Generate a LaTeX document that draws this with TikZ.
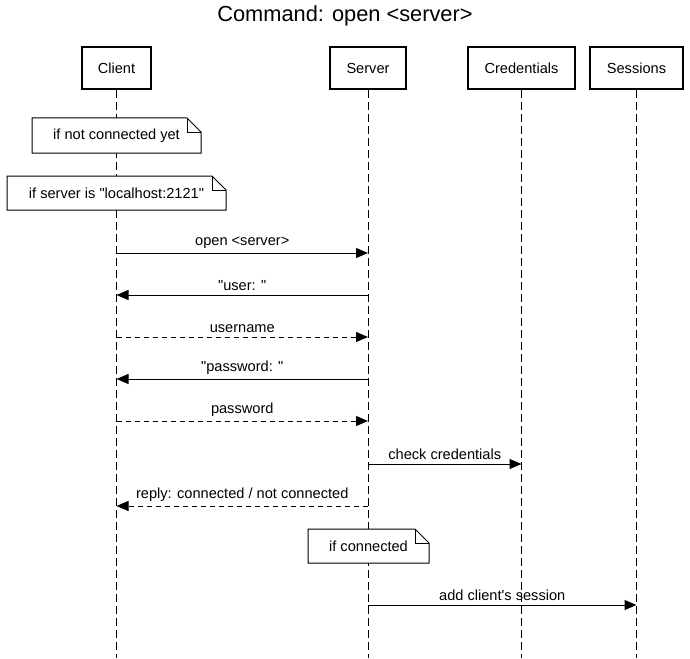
\documentclass[tikz,border=0pt]{standalone}
\usepackage{fontspec}
\setmainfont{Liberation Sans}[Ligatures=TeXOff]
\usetikzlibrary{arrows.meta}
\begin{document}
\begin{tikzpicture}[x=1pt,y=-1pt,
  actor/.style={draw,line width=2pt,minimum height=42pt,inner sep=0pt,font=\fontsize{14.6}{17}\selectfont},
  life/.style={line width=1pt,dash pattern=on 8pt off 4pt},
  msg/.style={line width=1pt,-{Triangle[length=12pt,width=10pt]}},
  reply/.style={msg,dash pattern=on 5pt off 4pt},
  lbl/.style={font=\fontsize{14.6}{17}\selectfont,inner sep=0pt},
  notebox/.style={line width=1pt,fill=white}]
\useasboundingbox (0,0) rectangle (690,658);
\node[font=\fontsize{21.8}{26}\selectfont] (title) at (345,16) {Command: open <server>};
% participants
\node[actor,minimum width=69pt] (client) at (116.5,68) {Client};
\node[actor,minimum width=76pt] (server) at (368,68) {Server};
\node[actor,minimum width=107pt] (cred) at (521.5,68) {Credentials};
\node[actor,minimum width=93pt] (sess) at (636.5,68) {Sessions};
% lifeline ends
\coordinate (clientE) at (116.5,658);
\coordinate (serverE) at (368,658);
\coordinate (credE) at (521.5,658);
\coordinate (sessE) at (636.5,658);
\draw[life] (client.south) -- (clientE);
\draw[life] (server.south) -- (serverE);
\draw[life] (cred.south) -- (credE);
\draw[life] (sess.south) -- (sessE);
% notes
\newcommand{\mynote}[6]{% name, x1,y1,x2,y2,text
  \filldraw[notebox] (#2,#3) -- (#4-14,#3) -- (#4,#3+14) -- (#4,#5) -- (#2,#5) -- cycle;
  \draw[line width=1pt] (#4-14,#3) -- (#4-14,#3+14) -- (#4,#3+14);
  \node[lbl] (#1) at ({(#2+#4)/2},{(#3+#5)/2}) {#6};}
\mynote{n1}{32}{118}{201}{153}{if not connected yet}
\mynote{n2}{7}{176}{226}{210}{if server is "localhost:2121"}
\mynote{n3}{308}{529}{429}{563}{if connected}
% message points
\foreach \n/\y in {a/253,b/295,c/337,d/379,e/421,f/464,g/506,h/605}{
  \coordinate (c\n) at (116.5,\y);
  \coordinate (s\n) at (368,\y);
  \coordinate (r\n) at (521.5,\y);
  \coordinate (x\n) at (636.5,\y);
}
\draw[msg] (ca) -- node[lbl,above=4pt] (la) {open <server>} (sa);
\draw[msg] (sb) -- node[lbl,above=4pt] (lb) {"user: "} (cb);
\draw[reply] (cc) -- node[lbl,above=4pt] (lc) {username} (sc);
\draw[msg] (sd) -- node[lbl,above=4pt] (ld) {"password: "} (cd);
\draw[reply] (ce) -- node[lbl,above=4pt] (le) {password} (se);
\draw[msg] (sf) -- node[lbl,above=4pt] (lf) {check credentials} (rf);
\draw[reply] (sg) -- node[lbl,above=4pt] (lg) {reply: connected / not connected} (cg);
\draw[msg] (sh) -- node[lbl,above=4pt] (lh) {add client's session} (xh);
\end{tikzpicture}
\end{document}
